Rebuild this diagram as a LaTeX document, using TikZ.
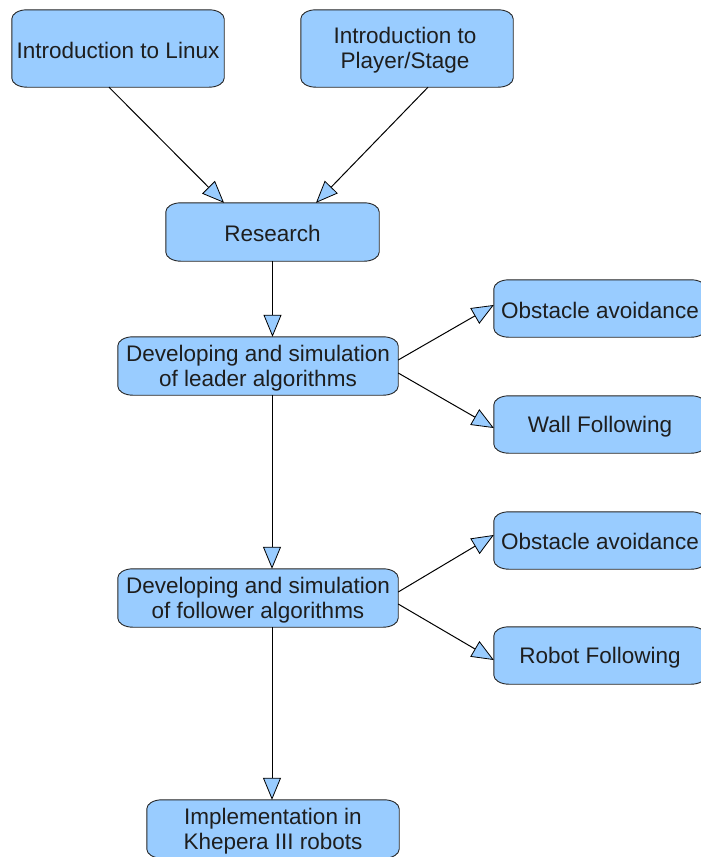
\documentclass[tikz,border=0pt]{standalone}
\usepackage{fontspec}
\setmainfont{Liberation Sans}
\usetikzlibrary{arrows.meta}
\definecolor{boxblue}{HTML}{99CCFF}
\definecolor{inkgrey}{HTML}{1E1E1E}
\pgfdeclarelayer{background}
\pgfsetlayers{background,main}
% rounded box outline with elliptical corners (15pt x 9pt) around node #1
\newcommand\softbox[1]{%
  \path[boxshape]
    ([xshift=15pt]#1.north west) -- ([xshift=-15pt]#1.north east)
    .. controls +(8.28pt,0) and +(0,4.97pt) .. ([yshift=-9pt]#1.north east)
    -- ([yshift=9pt]#1.south east)
    .. controls +(0,-4.97pt) and +(8.28pt,0) .. ([xshift=-15pt]#1.south east)
    -- ([xshift=15pt]#1.south west)
    .. controls +(-8.28pt,0) and +(0,-4.97pt) .. ([yshift=9pt]#1.south west)
    -- ([yshift=-9pt]#1.north west)
    .. controls +(0,4.97pt) and +(-8.28pt,0) .. ([xshift=15pt]#1.north west)
    -- cycle;}
\tikzset{
  x=1pt, y=1pt,
  boxshape/.style={fill=boxblue, draw=black!85, line width=0.9pt},
  stagebox/.style={draw=none, inner sep=0pt},
  stage/.style={draw=none, inner sep=0pt, align=center, text=inkgrey,
    font=\fontsize{22.5}{25}\selectfont},
  flow/.style={draw=black, line width=1pt,
    -{Triangle[length=22pt, width=18pt, fill=boxblue, line width=0.8pt]}},
}
\begin{document}
\begin{tikzpicture}
\useasboundingbox (0,0) rectangle (701,-857);

% box geometry
\node[stagebox, minimum width=212pt, minimum height=77pt] (lin) at (118,-48.5) {};
\node[stagebox, minimum width=212pt, minimum height=77pt] (pla) at (407,-48.5) {};
\node[stagebox, minimum width=213pt, minimum height=58pt] (res) at (272.5,-232) {};
\node[stagebox, minimum width=280pt, minimum height=58pt] (lead) at (258,-366) {};
\node[stagebox, minimum width=212pt, minimum height=57pt] (obsa) at (600,-308.5) {};
\node[stagebox, minimum width=212pt, minimum height=57pt] (wall) at (600,-424.5) {};
\node[stagebox, minimum width=280pt, minimum height=58pt] (foll) at (258,-598) {};
\node[stagebox, minimum width=212pt, minimum height=57pt] (obsb) at (600,-540.5) {};
\node[stagebox, minimum width=212pt, minimum height=57pt] (robot) at (600,-655.5) {};
\node[stagebox, minimum width=252pt, minimum height=58pt] (impl) at (273,-829) {};

% box captions, set slightly below the box centre
\node[stage] (lin-t) at ([yshift=-1.5pt]lin) {Introduction to Linux};
\node[stage] (pla-t) at ([xshift=-2pt,yshift=-1.5pt]pla) {Introduction to\\Player/Stage};
\node[stage] (res-t) at ([yshift=-1pt]res) {Research};
\node[stage] (lead-t) at ([yshift=-2.5pt]lead) {Developing and simulation\\of leader algorithms};
\node[stage] (obsa-t) at ([yshift=-1.5pt]obsa) {Obstacle avoidance};
\node[stage] (wall-t) at ([yshift=-2.5pt]wall) {Wall Following};
\node[stage] (foll-t) at ([yshift=-2.5pt]foll) {Developing and simulation\\of follower algorithms};
\node[stage] (obsb-t) at ([yshift=-1pt]obsb) {Obstacle avoidance};
\node[stage] (robot-t) at ([yshift=-2pt]robot) {Robot Following};
\node[stage] (impl-t) at ([yshift=-2.5pt]impl) {Implementation in\\Khepera III robots};

\begin{pgfonlayer}{background}
  \foreach \n in {lin,pla,res,lead,obsa,wall,foll,obsb,robot,impl} {\softbox{\n}}
\end{pgfonlayer}

\draw[flow] ([xshift=-9pt]lin.south) -- ([xshift=-48.5pt]res.north);
\draw[flow] ([xshift=21pt]pla.south) -- ([xshift=43.5pt]res.north);
\draw[flow] (res.south) -- ([xshift=14.5pt]lead.north);
\draw[flow] ([yshift=6pt]lead.east) -- ([yshift=3.5pt]obsa.west);
\draw[flow] ([yshift=-7pt]lead.east) -- ([yshift=-3.5pt]wall.west);
\draw[flow] ([xshift=14pt]lead.south) -- ([xshift=14pt]foll.north);
\draw[flow] ([yshift=6pt]foll.east) -- ([yshift=5.5pt]obsb.west);
\draw[flow] ([yshift=-6pt]foll.east) -- ([yshift=-4.5pt]robot.west);
\draw[flow] ([xshift=14pt]foll.south) -- ([xshift=-1pt]impl.north);
\end{tikzpicture}
\end{document}
